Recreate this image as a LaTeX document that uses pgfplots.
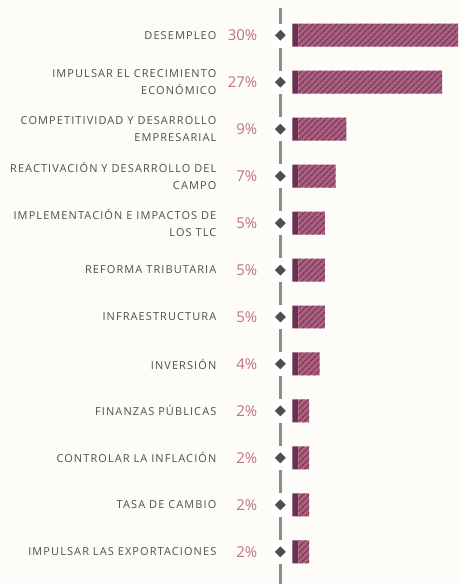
\documentclass[border=0pt]{standalone}
\usepackage{fontspec}
\setmainfont{Open Sans}
\newfontfamily\labfont[LetterSpace=10]{Open Sans}
\usepackage{pgfplots}
\usepackage{pgfplotstable}
\pgfplotsset{compat=1.18}
\usetikzlibrary{patterns.meta}
\definecolor{bgpaper}{HTML}{FDFCF8}
\definecolor{barpink}{HTML}{AC5E7E}
\definecolor{bardark}{HTML}{6A2F52}
\definecolor{pctpink}{HTML}{C0708C}
\definecolor{labgray}{HTML}{4E4E4E}
\definecolor{rulegray}{HTML}{8C8C8C}

\pgfplotstableread{
idx val
0 30
1 27
2 9
3 7
4 5
5 5
6 5
7 4
8 2
9 2
10 2
11 2
}\data

\begin{document}
\begin{tikzpicture}
\begin{axis}[
    scale only axis,
    width=463pt, height=585pt,
    xmin=-56.06, xmax=30.75,
    ymin=-0.75, ymax=11.68,
    y dir=reverse,
    hide axis,
    clip=false,
    /pgf/number format/assume math mode=true,
]
% paper
\fill[bgpaper] (rel axis cs:0,0) rectangle (rel axis cs:1,1);
% centre rule
\draw[rulegray, line width=2.5pt] (axis cs:-3.375,-0.58) -- (axis cs:-3.375,11.68);
% white boxes behind the diamonds
\addplot[white, only marks, mark=square*, mark size=11.5pt,
    mark options={fill=white, draw=white, xscale=0.8}]
    table[x expr=-3.375, y=idx] {\data};
\addplot[labgray, only marks, mark=square*, mark size=3.6pt,
    mark options={fill=labgray, draw=labgray, rotate=45}]
    table[x expr=-3.375, y=idx] {\data};
% dark caps
\addplot[xbar, bar width=23pt, fill=bardark, draw=none]
    table[x expr=-1.125, y=idx] {\data};
% hatched bars
\addplot[xbar, bar width=23pt, fill=barpink, draw=none,
    postaction={pattern={Lines[angle=45,distance=4pt,line width=1.1pt]}, pattern color=bardark}]
    table[x=val, y=idx] {\data};
% percentages
\addplot[draw=none, mark=none, nodes near coords, point meta=explicit,
    nodes near coords={\pgfmathprintnumber{\pgfplotspointmeta}\%},
    every node near coord/.append style={anchor=east, text=pctpink,
        font=\fontsize{15}{15}\selectfont, inner sep=0pt}]
    table[x expr=-7.69, y=idx, meta=val] {\data};
% category labels
\tikzset{lab/.style={anchor=east, align=right, text=labgray, inner sep=0pt,
    font=\labfont\fontsize{11}{17}\selectfont}}
\node[lab] at (axis cs:-15.375,0) {DESEMPLEO};
\node[lab] at (axis cs:-15.375,1) {IMPULSAR EL CRECIMIENTO\\ECONÓMICO};
\node[lab] at (axis cs:-15.375,2) {COMPETITIVIDAD Y DESARROLLO\\EMPRESARIAL};
\node[lab] at (axis cs:-15.375,3) {REACTIVACIÓN Y DESARROLLO DEL\\CAMPO};
\node[lab] at (axis cs:-15.375,4) {IMPLEMENTACIÓN E IMPACTOS DE\\LOS TLC};
\node[lab] at (axis cs:-15.375,5) {REFORMA TRIBUTARIA};
\node[lab] at (axis cs:-15.375,6) {INFRAESTRUCTURA};
\node[lab] at (axis cs:-15.375,7) {INVERSIÓN};
\node[lab] at (axis cs:-15.375,8) {FINANZAS PÚBLICAS};
\node[lab] at (axis cs:-15.375,9) {CONTROLAR LA INFLACIÓN};
\node[lab] at (axis cs:-15.375,10) {TASA DE CAMBIO};
\node[lab] at (axis cs:-15.375,11) {IMPULSAR LAS EXPORTACIONES};
\end{axis}
\end{tikzpicture}
\end{document}
